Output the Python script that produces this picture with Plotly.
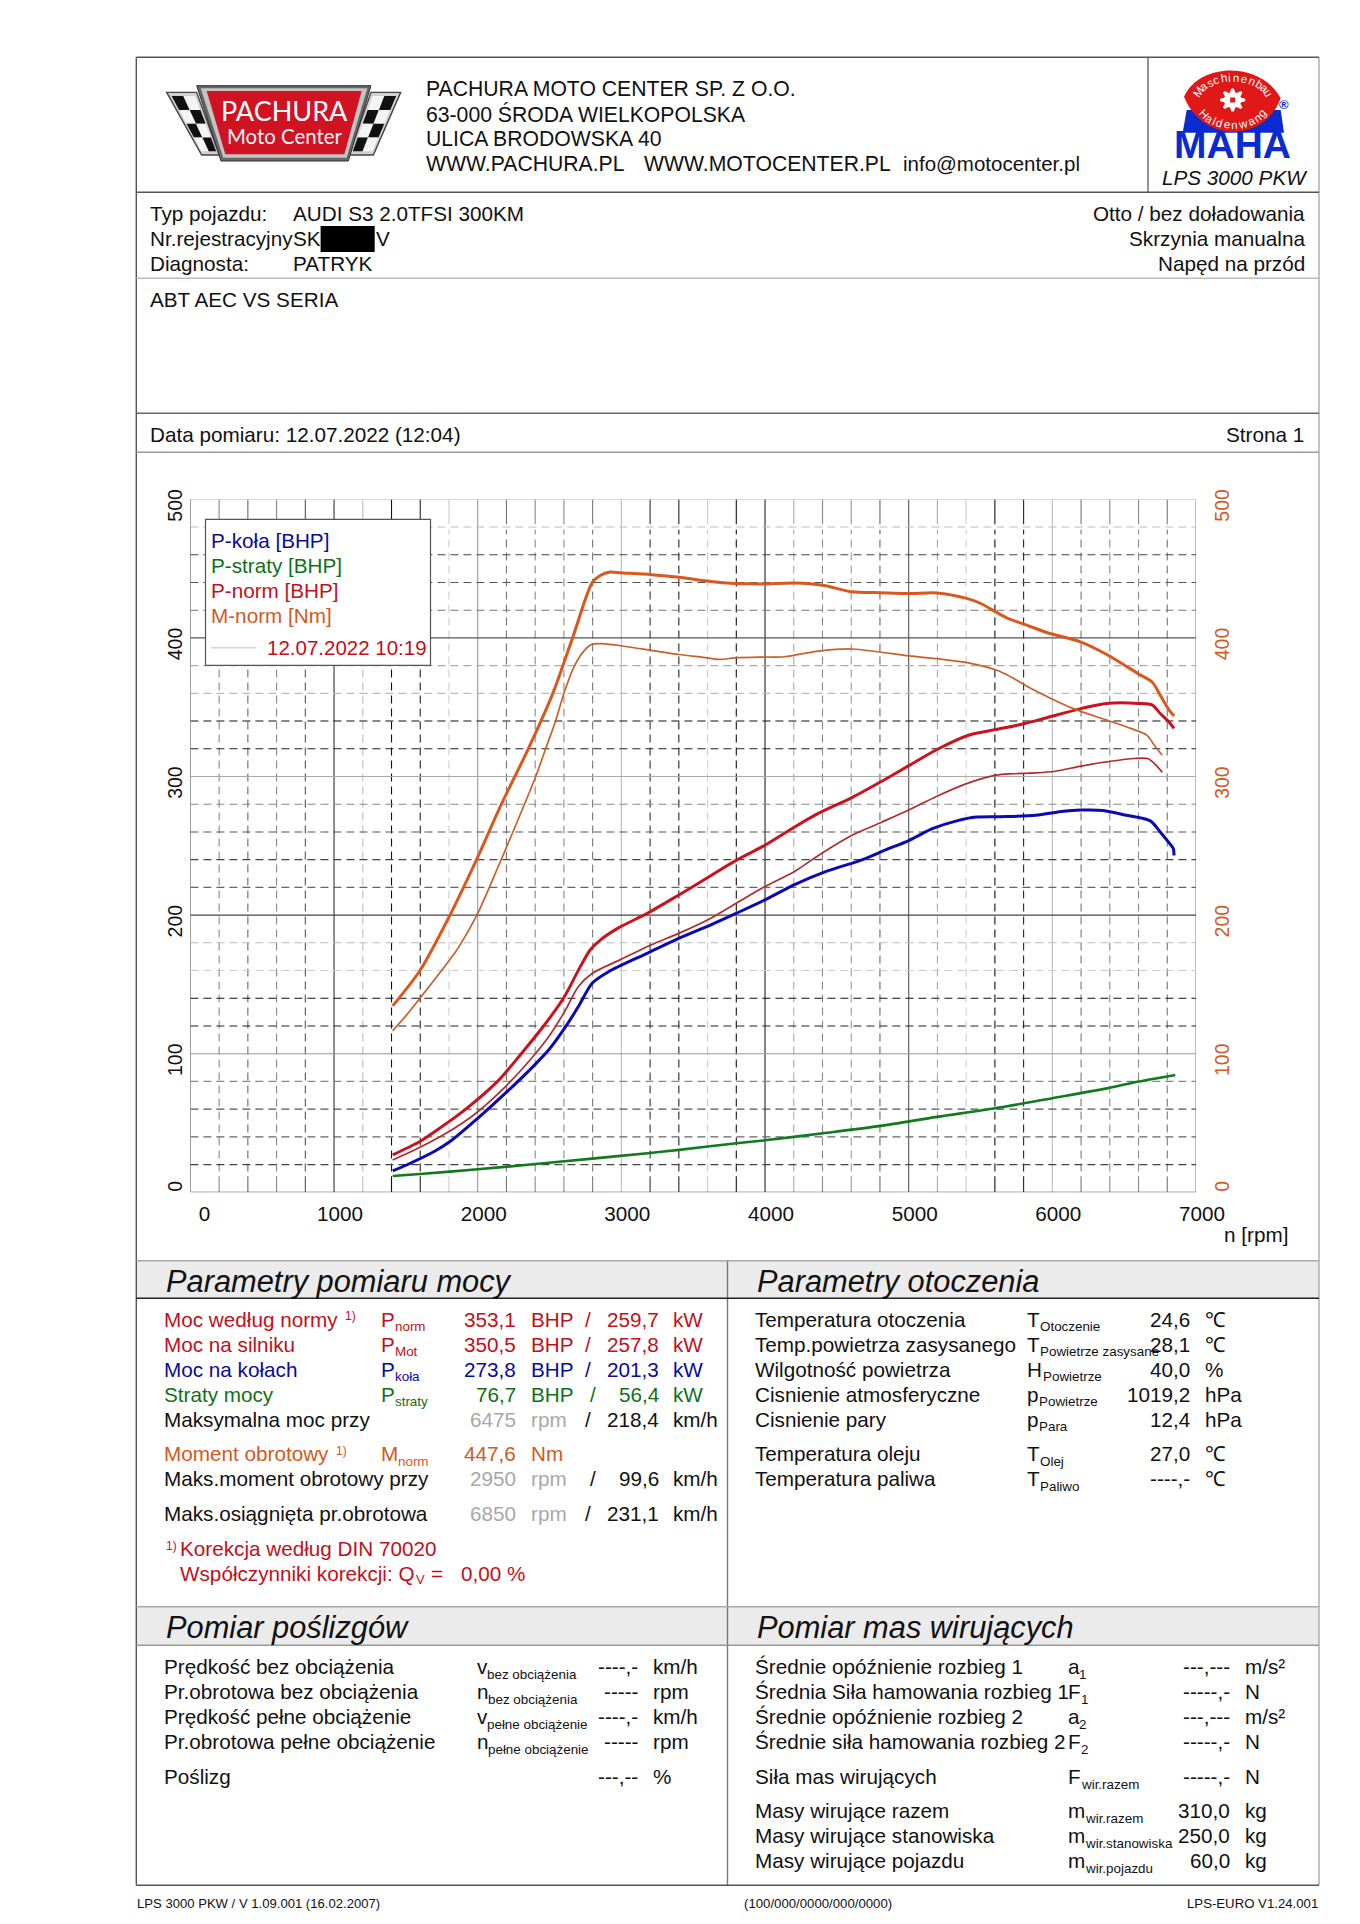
import math
import plotly.graph_objects as go

W, H = 1360, 1924

# ---------------- chart data ----------------
rpm_m_norm = [1408,1598,1807,1992,2165,2352,2523,2660,2798,2853,2922,2990,3210,3403,3596,3733,3893,4000,4206,4404,4600,4803,5004,5197,5403,5499,5601,5692,5802,5967,6200,6379,6600,6696,6751,6806,6847]
m_norm = [134.5,160,200,240,280,320,360,400,440,445,447.5,447,445.6,443.7,441,439.6,439,438.9,439.6,438,433.3,432.6,432,432.4,428.5,425,419,414,410,403.7,397,388,374,368,358.7,349,343.6]
rpm_m_old = [1408,1505,1598,1752,1862,1994,2137,2247,2404,2473,2542,2600,2674,2743,2798,2866,3018,3210,3403,3568,3684,3802,4000,4137,4371,4605,4784,5004,5197,5417,5609,5719,5829,5967,6146,6379,6545,6655,6710,6765]
m_old = [116.5,128,140,160.5,176,200,233.6,260.5,300,320,340,360,380,391,395.5,395.8,394,391,388,386,384.5,385.7,386.2,386.4,390.5,392,390,387,385,382,376.8,371.5,364.7,357.5,349,340.7,334.7,330,322.6,315.4]
rpm_p_norm = [1408,1505,1598,1752,1917,2138,2303,2459,2597,2715,2784,2853,2977,3183,3403,3596,3807,4000,4206,4371,4605,4803,5004,5197,5417,5609,5802,5967,6200,6379,6600,6696,6751,6806,6847]
p_norm = [27,31.8,36.6,47.4,60,80,100,120,140,163,175,182,190.6,201.4,214.7,226.7,240,250.4,263.6,273.4,284.8,296,308,319.5,329.8,333.9,338,342.6,349,352.7,352.7,351.5,345.5,340,334.7]
rpm_p_old = [1408,1598,1780,1972,2193,2385,2495,2605,2701,2798,2990,3210,3403,3623,3802,4000,4206,4371,4605,4811,5004,5197,5417,5609,5719,5884,6022,6200,6406,6571,6668,6723,6765]
p_old = [23.3,32.5,42.6,55.8,76.3,98,112.4,130.4,148.5,158,167.7,178.6,187,197.8,208.7,220.7,231.5,243,257.6,267,276,285.8,295.4,301,302,302.6,303.8,307.5,311,313,312.8,308,303]
rpm_p_kola = [1408,1505,1697,1807,2000,2193,2385,2495,2605,2701,2798,2908,3183,3403,3623,3802,4000,4206,4426,4674,4839,5004,5169,5334,5472,5637,5884,6077,6200,6352,6517,6682,6751,6806,6842,6847]
p_kola = [15.4,19.7,29.4,36.6,53.4,71.5,90.7,102.8,118.4,134,151,159,172.6,183.4,193,201.4,211,222,231.5,239.9,247,254,262.5,268,270.7,271,272,275,275.8,275.5,272,268,260,253,248,243]
rpm_p_straty = [1408,1598,2000,2330,2798,3183,3403,3802,4000,4404,4803,5197,5601,6000,6379,6600,6856]
p_straty = [11.8,13.2,16.6,19.7,24.3,28.2,30.6,35.4,37.5,42.6,47.9,54.4,60.6,67.9,75,79.9,84.7]

x_tick_labels = ["0","1000","2000","3000","4000","5000","6000","7000"]
y_tick_labels = ["0","100","200","300","400","500"]
grid_rpm = list(range(0, 7001, 200))
grid_val = list(range(0, 501, 20))

legend_labels = ["P-koła [BHP]", "P-straty [BHP]", "P-norm [BHP]", "M-norm [Nm]"]
legend_date = "12.07.2022 10:19"

header_lines = ["PACHURA MOTO CENTER SP. Z O.O.", "63-000 ŚRODA WIELKOPOLSKA", "ULICA BRODOWSKA 40"]
vehicle_left = ["Typ pojazdu:", "Nr.rejestracyjny", "Diagnosta:"]
vehicle_vals = ["AUDI S3 2.0TFSI 300KM", "SK", "PATRYK"]
vehicle_right = ["Otto / bez doładowania", "Skrzynia manualna", "Napęd na przód"]

power_labels = ["Moc według normy", "Moc na silniku", "Moc na kołach", "Straty mocy"]
power_syms = [("P","norm"),("P","Mot"),("P","koła"),("P","straty")]
power_bhp = ["353,1","350,5","273,8","76,7"]
power_kw = ["259,7","257,8","201,3","56,4"]

env_labels = ["Temperatura otoczenia","Temp.powietrza zasysanego","Wilgotność powietrza","Cisnienie atmosferyczne","Cisnienie pary","Temperatura oleju","Temperatura paliwa"]
env_syms = [("T","Otoczenie"),("T","Powietrze zasysane"),("H","Powietrze"),("p","Powietrze"),("p","Para"),("T","Olej"),("T","Paliwo")]
env_vals = ["24,6","28,1","40,0","1019,2","12,4","27,0","----,-"]
env_units = ["℃","℃","%","hPa","hPa","℃","℃"]

slip_labels = ["Prędkość bez obciążenia","Pr.obrotowa bez obciążenia","Prędkość pełne obciążenie","Pr.obrotowa pełne obciążenie","Poślizg"]
slip_syms = [("v","bez obciążenia"),("n","bez obciążenia"),("v","pełne obciążenie"),("n","pełne obciążenie"),("","")]
slip_vals = ["----,-","-----","----,-","-----","---,--"]
slip_units = ["km/h","rpm","km/h","rpm","%"]

mass_labels = ["Średnie opóźnienie rozbieg 1","Średnia Siła hamowania rozbieg 1","Średnie opóźnienie rozbieg 2","Średnie siła hamowania rozbieg 2","Siła mas wirujących","Masy wirujące razem","Masy wirujące stanowiska","Masy wirujące pojazdu"]
mass_syms = [("a","1"),("F","1"),("a","2"),("F","2"),("F","wir.razem"),("m","wir.razem"),("m","wir.stanowiska"),("m","wir.pojazdu")]
mass_vals = ["---,---","-----,-","---,---","-----,-","-----,-","310,0","250,0","60,0"]
mass_units = ["m/s²","N","m/s²","N","N","kg","kg","kg"]

# ---------------- styles ----------------
FONT = "Liberation Sans"
FS = 20.7
BLUE, GREEN, RED, ORANGE = "#0a0ab0", "#0f7a1e", "#c8141e", "#d8581e"
RED_OLD, ORANGE_OLD = "#b02c2c", "#c8602c"
TXT_RED, TXT_BLUE, TXT_GREEN, TXT_ORANGE = "#c01020", "#0a0a9c", "#107018", "#d05a20"
GREY = "#a8a8a8"
v_colors = ["#555","#888","#666","#888","#555","#333","#bbb","#111","#222","#ccc","#999","#777","#888","#888","#777","#bbb","#333","#222","#ccc","#111","#222","#aaa","#888","#999","#666","#555","#aaa","#ccc","#111","#222","#bbb","#777","#888","#888","#777","#888"]
h_colors = ["#444","#444","#666","#555","#888","#999","#222","#111","#ccc","#bbb","#444","#666","#444","#555","#888","#aaa","#222","#111","#bbb","#aaa","#555","#777","#555","#444","#bbb","#bbb"]

PX_L, PX_R, PX_T, PX_B = 190.4, 1196.0, 499.3, 1192.3

shapes, annots = [], []
def px(x): return x / W
def py(y): return 1 - y / H

def T(x, y, text, size=FS, color="#111", anchor="left", italic=False, bold=False, family=FONT, angle=0):
    if italic: text = f"<i>{text}</i>"
    if bold: text = f"<b>{text}</b>"
    annots.append(dict(xref="paper", yref="paper", x=px(x), y=py(y), text=text, showarrow=False,
                       xanchor=anchor, yanchor="middle", borderpad=0, borderwidth=0, textangle=angle,
                       font=dict(family=family, size=size, color=color)))

def SYM(x, y, sym, sub, color="#111"):
    off = {"P":13.5,"T":12.5,"H":15.5,"p":11.5,"M":17,"v":10,"n":11,"a":11,"F":12.5,"m":17}.get(sym,12)
    T(x, y, sym, FS, color)
    T(x+off, y+7.5, sub, 13.4, color)

def HL(y, c, x0=136.3, x1=1319.0, w=1.4):
    shapes.append(dict(type="line", xref="paper", yref="paper", x0=px(x0), x1=px(x1), y0=py(y), y1=py(y), line=dict(color=c, width=w)))
def VL(x, y0, y1, c, w=1.4):
    shapes.append(dict(type="line", xref="paper", yref="paper", x0=px(x), x1=px(x), y0=py(y0), y1=py(y1), line=dict(color=c, width=w)))
def RECT(x0, y0, x1, y1, fill, line=None, w=0):
    shapes.append(dict(type="rect", xref="paper", yref="paper", x0=px(x0), x1=px(x1), y0=py(y0), y1=py(y1), fillcolor=fill, line=dict(color=line or fill, width=w)))
def POLY(pts, fill, line=None, w=0):
    d = "M " + " L ".join(f"{px(a):.5f},{py(b):.5f}" for a, b in pts) + " Z"
    shapes.append(dict(type="path", xref="paper", yref="paper", path=d, fillcolor=fill, line=dict(color=line or fill, width=w)))

# ---------------- panel frame ----------------
RECT(136.3, 1260.7, 1319, 1298.3, "#ebebeb")
RECT(136.3, 1606.7, 1319, 1645.3, "#ebebeb")
VL(136.3, 57.3, 1885.3, "#555")
VL(1319, 57.3, 1885.3, "#aaa")
VL(1148, 57.3, 192.3, "#666")
VL(727.5, 1260.7, 1885.3, "#777")
HL(57.3, "#555"); HL(192.3, "#555"); HL(278.3, "#bbb"); HL(413.3, "#666"); HL(452.3, "#999")
HL(1260.7, "#aaa"); HL(1298.3, "#222"); HL(1606.7, "#aaa"); HL(1645.3, "#999"); HL(1885.3, "#555")

# ---------------- header text ----------------
for i, s in enumerate(header_lines):
    T(425.7, 88.8 + 25*i, s, 21.2)
T(425.7, 163.8, "WWW.PACHURA.PL", 21.2)
T(643.7, 163.8, "WWW.MOTOCENTER.PL", 21.2)
T(902.5, 163.5, "info@motocenter.pl", 20.5)
T(1234.5, 177.7, "LPS 3000 PKW", FS, italic=True, anchor="center")
for i in range(3):
    y = 213 + 25*i
    T(149.6, y, vehicle_left[i])
    T(292.6, y, vehicle_vals[i])
    T(1305, y, vehicle_right[i], anchor="right")
RECT(320.6, 226, 374.7, 252, "#000")
T(375.5, 238, "V")
T(149.6, 299.5, "ABT AEC VS SERIA")
T(149.6, 435, "Data pomiaru: 12.07.2022 (12:04)")
T(1303.5, 435, "Strona 1", anchor="right")

# ---------------- PACHURA logo ----------------
def Z(a, b): return (160 + a/3, 75 + b/3)
for wing, sq in ((((20,52),(110,52),(178,240),(125,240)), 0), (((633,52),(722,52),(640,240),(567,240)), 1)):
    POLY([Z(*p) for p in wing], "#d0d0d0", "#444", 1.4)
    (a0,_),(a1,_),(b1,_),(b0,_) = wing
    for r in range(4):
        for c in range(2):
            t0, t1 = 0.06 + 0.22*r, 0.06 + 0.22*(r+1)
            s0, s1 = 0.10 + 0.40*c, 0.10 + 0.40*(c+1)
            def P(s, t):
                xl = a0 + (b0-a0)*t; xr = a1 + (b1-a1)*t
                return Z(xl + (xr-xl)*s, 52 + 188*t)
            POLY([P(s0,t0),P(s1,t0),P(s1,t1),P(s0,t1)], "#111" if (r+c+sq) % 2 == 0 else "#f4f4f4")
POLY([Z(110,32),Z(633,32),Z(565,258),Z(183,258)], "#666", "#333", 1)
POLY([Z(122,40),Z(622,40),Z(560,248),Z(190,248)], "#c4c4c4")
POLY([Z(140,48),Z(605,48),Z(553,238),Z(196,238)], "#cf1322")
a, b = Z(372, 106); T(a, b, "PACHURA", 27, "#fff", "center", family="Lato")
a, b = Z(373, 183); T(a, b, "Moto Center", 20.4, "#f4f4f4", "center", family="Lato")

# ---------------- MAHA logo ----------------
def M(a, b): return (1160 + a/3, 60 + b/3)
POLY([M(80,150),M(362,150),M(372,218),M(68,218)], "#0a2bd0")
def pt(a, b):
    p = M(a, b); return f"{px(p[0]):.5f},{py(p[1]):.5f}"
shapes.append(dict(type="path", xref="paper", yref="paper",
    path=f"M {pt(72,110)} C {pt(120,5)} {pt(305,5)} {pt(362,115)} C {pt(312,250)} {pt(128,250)} {pt(72,110)} Z",
    fillcolor="#e01818", line=dict(color="#e01818", width=0)))
gc = M(218, 120)
gear = []
for i in range(32):
    r = 11.5 if (i % 4) in (0, 1) else 8
    a_ = 2*math.pi*(i-0.5)/32
    gear.append((gc[0] + r*1.1*math.cos(a_), gc[1] + r*math.sin(a_)))
POLY(gear, "#fff")
RECT(gc[0]-2.5, gc[1]-2.5, gc[0]+2.5, gc[1]+2.5, "#e01818")
CHAR_W = {"i":.24,"l":.24,"t":.3,"c":.5,"s":.5,"M":.85,"H":.72,"w":.72,"m":.83}
def arc_text(s, cx, cy, rx, ry, a0, a1, top=True):
    ws = [CHAR_W.get(ch, .56) for ch in s]
    tot = sum(ws); run = 0
    for ch, cw in zip(s, ws):
        t = a0 + (a1-a0)*(run + cw/2)/tot
        run += cw
        r = math.radians(t)
        x = cx + rx*math.sin(r)
        y = cy - ry*math.cos(r) if top else cy + ry*math.cos(r)
        ang = math.degrees(math.atan2(ry*math.sin(r)*(1 if top else -1), rx*math.cos(r)))
        T(x, y, ch, 11.5, "#fff", "center", angle=ang)
cc = M(218, 125)
arc_text("Maschinenbau", cc[0], cc[1], 38, 24, -75, 75, True)
arc_text("Haldenwang", cc[0], cc[1], 34, 23, -66, 66, False)
a, b = M(218, 254); T(a, b, "MAHA", 39, "#0a2bd0", "center", bold=True)
a, b = M(372, 135); T(a, b, "®", 13, "#0a2bd0", "center", bold=True)

# ---------------- power table ----------------
T(165.6, 1281.7, "Parametry pomiaru mocy", 30.8, italic=True)
row_y = [1319, 1344, 1369, 1394]
row_c = [TXT_RED, TXT_RED, TXT_BLUE, TXT_GREEN]
for i in range(4):
    y, c = row_y[i], row_c[i]
    T(164.4, y, power_labels[i], FS, c)
    SYM(381, y, *power_syms[i], color=c)
    T(516.3, y, power_bhp[i], FS, c, "right")
    T(531, y, "BHP", FS, c)
    T(593.4 if i == 3 else 587.5, y, "/", FS, c, "center")
    T(658.7, y, power_kw[i], FS, c, "right")
    T(673.3, y, "kW", FS, c)
T(344.7, 1316, "1)", 12, TXT_RED)
T(164.4, 1419.4, "Maksymalna moc przy")
T(516.3, 1419.4, "6475", FS, GREY, "right"); T(531, 1419.4, "rpm", FS, GREY)
T(587.5, 1419.4, "/", anchor="center"); T(658.7, 1419.4, "218,4", anchor="right"); T(673.3, 1419.4, "km/h")
T(164.4, 1453.7, "Moment obrotowy", FS, TXT_ORANGE); T(335.6, 1451, "1)", 12, TXT_ORANGE)
SYM(381, 1453.7, "M", "norm", TXT_ORANGE)
T(516.3, 1453.7, "447,6", FS, TXT_ORANGE, "right"); T(531, 1453.7, "Nm", FS, TXT_ORANGE)
T(164.4, 1478.7, "Maks.moment obrotowy przy")
T(516.3, 1478.7, "2950", FS, GREY, "right"); T(531, 1478.7, "rpm", FS, GREY)
T(593.4, 1478.7, "/", anchor="center"); T(658.7, 1478.7, "99,6", anchor="right"); T(673.3, 1478.7, "km/h")
T(164.4, 1513, "Maks.osiągnięta pr.obrotowa")
T(516.3, 1513, "6850", FS, GREY, "right"); T(531, 1513, "rpm", FS, GREY)
T(587.5, 1513, "/", anchor="center"); T(658.7, 1513, "231,1", anchor="right"); T(673.3, 1513, "km/h")
T(165.6, 1546, "1)", 12, TXT_RED); T(180.2, 1548, "Korekcja według DIN 70020", FS, TXT_RED)
T(180.2, 1573, "Współczynniki korekcji: Q", FS, TXT_RED); T(416, 1579, "V", 13, TXT_RED); T(431, 1573, "=", FS, TXT_RED)
T(461, 1573, "0,00 %", FS, TXT_RED)

# ---------------- environment table ----------------
T(757, 1281.7, "Parametry otoczenia", 30.8, italic=True)
env_y = [1319, 1344, 1369, 1394, 1419.4, 1453.7, 1478.7]
for i, y in enumerate(env_y):
    T(755.2, y, env_labels[i])
    SYM(1027.4, y, *env_syms[i])
    T(1189.5, y, env_vals[i], anchor="right")
    T(1204.5, y, env_units[i])

# ---------------- slip table ----------------
T(165.6, 1627.3, "Pomiar poślizgów", 30.8, italic=True)
slip_y = [1666.7, 1691.7, 1716.7, 1741.7, 1776.7]
for i, y in enumerate(slip_y):
    T(164.4, y, slip_labels[i])
    if slip_syms[i][0]:
        SYM(476.8, y, *slip_syms[i])
    T(638, y, slip_vals[i], anchor="right")
    T(653, y, slip_units[i])

# ---------------- rotating masses table ----------------
T(757, 1627.3, "Pomiar mas wirujących", 30.8, italic=True)
mass_y = [1666.7, 1691.7, 1716.7, 1741.7, 1776.7, 1810.7, 1835.7, 1860.7]
for i, y in enumerate(mass_y):
    T(755.2, y, mass_labels[i])
    SYM(1068, y, *mass_syms[i])
    T(1230, y, mass_vals[i], anchor="right")
    T(1245, y, mass_units[i])

# ---------------- footer ----------------
T(136.7, 1903.3, "LPS 3000 PKW / V 1.09.001 (16.02.2007)", 13.1)
T(743.8, 1903.3, "(100/000/0000/000/0000)", 13.2)
T(1318, 1903.3, "LPS-EURO V1.24.001", 13.2, anchor="right")

# ---------------- grid ----------------
DASH = "8px,5px"
def grid_line(x0, y0, x1, y1, c, dash="solid", w=1.1):
    shapes.append(dict(type="line", xref="x", yref="y", x0=x0, y0=y0, x1=x1, y1=y1, layer="below",
                       line=dict(color=c, width=w, dash=dash)))
for v, c in zip(grid_rpm, v_colors):
    if v % 1000 == 0:
        grid_line(v, 0, v, 500, c)
    else:
        grid_line(v, 0, v, 11.5, c)
        grid_line(v, 15, v, 478, c, DASH)
        grid_line(v, 482, v, 500, c)
for v, c in zip(grid_val, h_colors):
    grid_line(0, v, 7000, v, c, "solid" if v % 100 == 0 else DASH)

# ---------------- legend box ----------------
RECT(205.5, 519.3, 430.5, 665.3, "#fff", "#555", 1.2)
for s, c, y in zip(legend_labels, [TXT_BLUE, TXT_GREEN, TXT_RED, TXT_ORANGE], [540, 565.7, 590.7, 615.7]):
    T(211, y, s, FS, c)
HL(647.7, "#f0c8cc", 211, 256.5, 1.5)
T(266.5, 647.7, legend_date, 20.5, TXT_RED)
T(1224, 1234, "n [rpm]", 20.7, "#111")

# ---------------- traces ----------------
fig = go.Figure()
def add(xs, ys, color, width, yaxis="y"):
    fig.add_trace(go.Scatter(x=xs, y=ys, mode="lines", yaxis=yaxis, showlegend=False, hoverinfo="skip",
                             line=dict(color=color, width=width, shape="spline", smoothing=0.8)))
add(rpm_m_old, m_old, ORANGE_OLD, 1.7, "y2")
add(rpm_p_old, p_old, RED_OLD, 1.7)
add(rpm_p_straty, p_straty, GREEN, 2.6)
add(rpm_p_kola, p_kola, BLUE, 3)
add(rpm_p_norm, p_norm, RED, 3)
add(rpm_m_norm, m_norm, ORANGE, 3, "y2")

x_tick_pos = [int(s) for s in x_tick_labels]
x_tick_pos[0] = 56
y_tick_pos = [int(s) for s in y_tick_labels]
y_tick_pos[0] = 8.7

fig.update_layout(
    width=W, height=H, margin=dict(l=0, r=0, t=0, b=0, autoexpand=False),
    paper_bgcolor="#fff", plot_bgcolor="rgba(0,0,0,0)",
    font=dict(family=FONT, size=20, color="#111"),
    shapes=shapes, annotations=annots,
    xaxis=dict(domain=[px(PX_L), px(PX_R)], range=[0, 7000], showgrid=False, zeroline=False, showline=False,
               tickmode="array", tickvals=x_tick_pos, ticktext=x_tick_labels, ticks="",
               ticklabelshift=6, ticklabelstandoff=7, tickfont=dict(size=20.7, color="#111"), tickangle=0),
    yaxis=dict(domain=[py(PX_B), py(PX_T)], range=[0, 500], showgrid=False, zeroline=False, showline=False,
               tickmode="array", tickvals=y_tick_pos, ticktext=y_tick_labels, ticks="", tickangle=-90,
               ticklabelshift=9, ticklabelstandoff=4, tickfont=dict(size=19.5, color="#111")),
    yaxis2=dict(domain=[py(PX_B), py(PX_T)], range=[0, 500], overlaying="y", side="right", anchor="x",
                showgrid=False, zeroline=False, showline=False,
                tickmode="array", tickvals=y_tick_pos, ticktext=y_tick_labels, ticks="", tickangle=-90,
                ticklabelshift=9, ticklabelstandoff=12, tickfont=dict(size=19.5, color=TXT_ORANGE)),
)
fig.write_html("out.html", post_script="document.body.style.margin='0';", config=dict(displayModeBar=False))
